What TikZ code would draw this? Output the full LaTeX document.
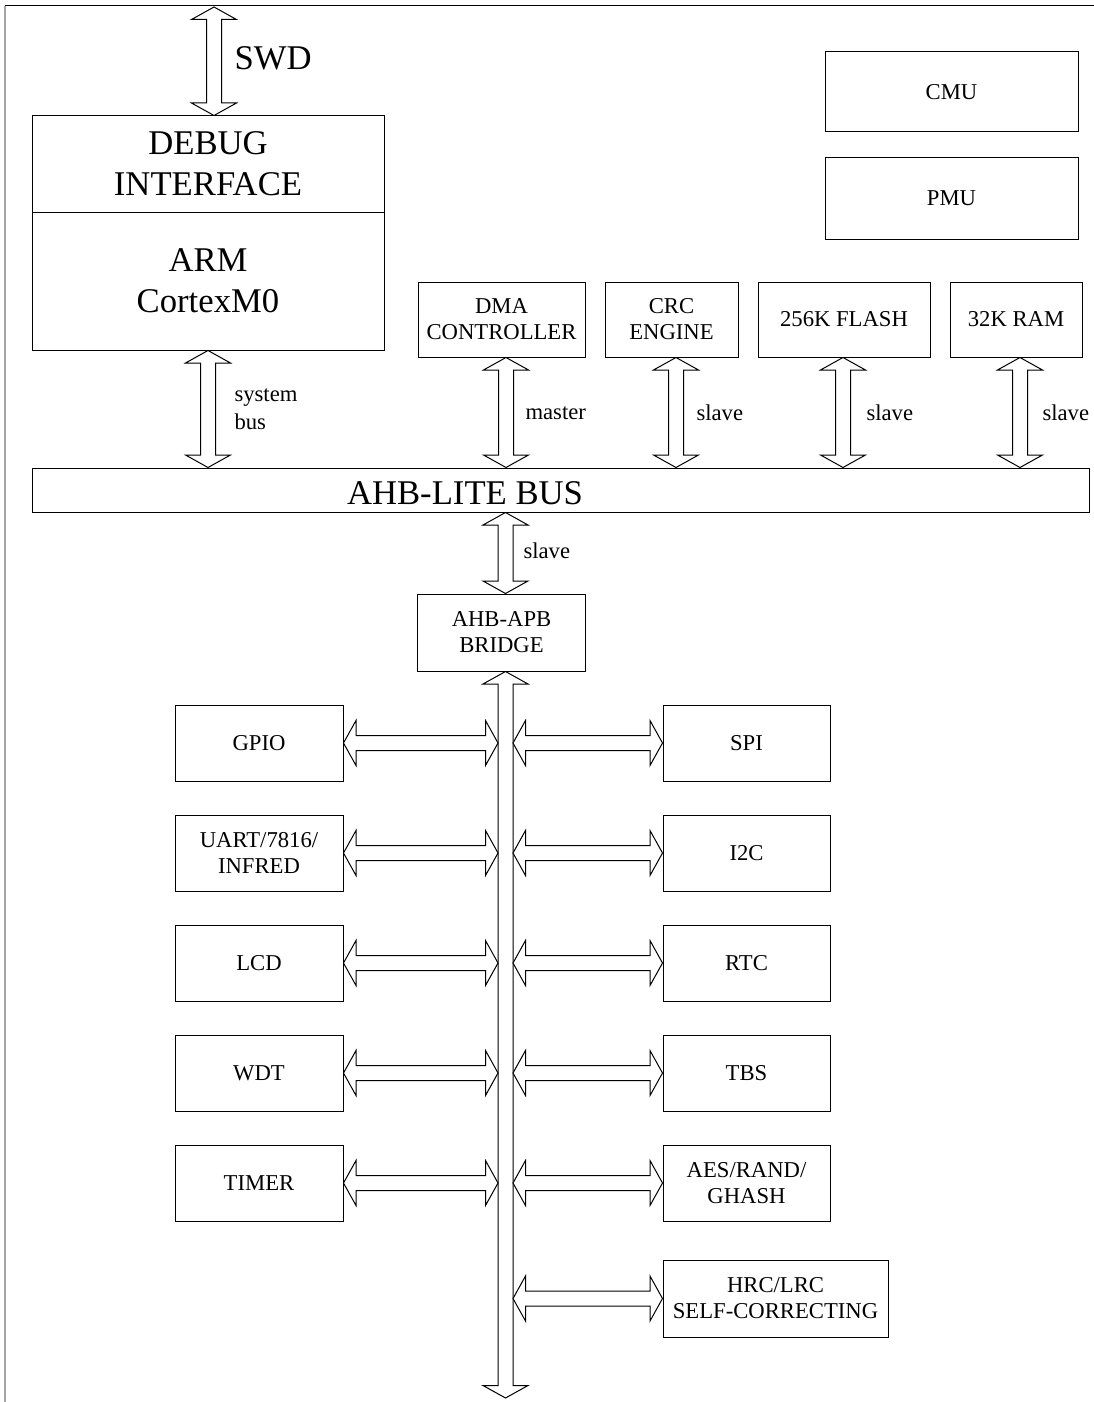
\documentclass[tikz,border=0pt]{standalone}
\usepackage{fontspec}
\setmainfont{Liberation Serif}
\usetikzlibrary{calc}

\tikzset{every picture/.style={line width=0.75pt}}
\tikzset{
  blk/.style={draw, inner sep=0.75pt, align=center, font=\fontsize{17}{19.5}\selectfont},
  bigblk/.style={draw, inner sep=0.75pt, align=center, font=\fontsize{26}{31}\selectfont},
  bigtext/.style={inner sep=0.75pt, align=center, font=\fontsize{26}{31}\selectfont},
  lbl/.style={inner sep=0.75pt, anchor=west, align=left, font=\fontsize{17}{20.6}\selectfont},
  busarrow/.style={draw, fill=white, line join=miter},
}

% vertical bus arrow, #1 upper tip, #2 lower tip
\newcommand{\vbusarrow}[2]{%
  \draw[busarrow] (#1) -- ($(#1)+(22.5,12.5)$) -- ($(#1)+(7.5,12.5)$) -- ($(#2)+(7.5,-12.5)$) -- ($(#2)+(22.5,-12.5)$) -- (#2) -- ($(#2)+(-22.5,-12.5)$) -- ($(#2)+(-7.5,-12.5)$) -- ($(#1)+(-7.5,12.5)$) -- ($(#1)+(-22.5,12.5)$) -- cycle ;}
% horizontal bus arrow, #1 left tip, #2 right tip
\newcommand{\hbusarrow}[2]{%
  \draw[busarrow] (#1) -- ($(#1)+(12.5,-22.5)$) -- ($(#1)+(12.5,-7.5)$) -- ($(#2)+(-12.5,-7.5)$) -- ($(#2)+(-12.5,-22.5)$) -- (#2) -- ($(#2)+(-12.5,22.5)$) -- ($(#2)+(-12.5,7.5)$) -- ($(#1)+(12.5,7.5)$) -- ($(#1)+(12.5,22.5)$) -- cycle ;}

\begin{document}
\begin{tikzpicture}[x=0.75pt,y=0.75pt,yscale=-1,xscale=1]
\useasboundingbox (0,0) rectangle (1094,1402);

%Frame
\draw [color=gray!70, line width=1.5] (5,6) -- (5,1402) ;
\draw (5,6) -- (1094,6) ;

%Core
\node [bigblk, minimum width=264pt, minimum height=72pt] (debug) at (208,164) {DEBUG\\INTERFACE};
\node [bigblk, minimum width=264pt, minimum height=103.5pt] (arm) at (208,281) {ARM\\CortexM0};

%Clock and power
\node [blk, minimum width=189.75pt, minimum height=60pt] (cmu) at (951.5,92) {CMU};
\node [blk, minimum width=189.75pt, minimum height=60.75pt] (pmu) at (951.5,198.5) {PMU};

%AHB masters and slaves
\node [blk, minimum width=125.25pt, minimum height=56.25pt] (dma) at (501.5,319.5) {DMA\\CONTROLLER};
\node [blk, minimum width=99.75pt, minimum height=56.25pt] (crc) at (671.5,319.5) {CRC\\ENGINE};
\node [blk, minimum width=129pt, minimum height=56.25pt] (flash) at (844,319.5) {256K FLASH};
\node [blk, minimum width=99pt, minimum height=56.25pt] (ram) at (1016,319.5) {32K RAM};

%AHB bus
\node [draw, minimum width=792.75pt, minimum height=33pt] (ahb) at (560.5,490) {};
% Text Node
\node [bigtext] (ahbtext) at (465,493) {AHB-LITE BUS};

\node [blk, minimum width=126pt, minimum height=57.75pt] (bridge) at (501.5,632.5) {AHB-APB\\BRIDGE};

%APB peripherals, left
\node [blk, minimum width=126pt, minimum height=57pt] (gpio) at (259,743) {GPIO};
\node [blk, minimum width=126pt, minimum height=57pt] (uart) at (259,853) {UART/7816/\\INFRED};
\node [blk, minimum width=126pt, minimum height=57pt] (lcd) at (259,963) {LCD};
\node [blk, minimum width=126pt, minimum height=57pt] (wdt) at (259,1073) {WDT};
\node [blk, minimum width=126pt, minimum height=57pt] (timer) at (259,1183) {TIMER};

%APB peripherals, right
\node [blk, minimum width=125.25pt, minimum height=57pt] (spi) at (746.5,743) {SPI};
\node [blk, minimum width=125.25pt, minimum height=57pt] (i2c) at (746.5,853) {I2C};
\node [blk, minimum width=125.25pt, minimum height=57pt] (rtc) at (746.5,963) {RTC};
\node [blk, minimum width=125.25pt, minimum height=57pt] (tbs) at (746.5,1073) {TBS};
\node [blk, minimum width=125.25pt, minimum height=57pt] (aes) at (746.5,1183) {AES/RAND/\\GHASH};
\node [blk, minimum width=168.75pt, minimum height=57.75pt] (hrc) at (775.5,1298.5) {HRC/LRC\\SELF-CORRECTING};

%SWD arrow
\coordinate (swdtop) at (214,7);
\coordinate (swdbot) at (debug.north -| swdtop);
\vbusarrow{swdtop}{swdbot}
% Text Node
\node [bigtext, anchor=west] (swdlbl) at (233,58) {SWD};

%System bus arrow
\coordinate (sysbot) at (arm.south |- ahb.north);
\vbusarrow{arm.south}{sysbot}
% Text Node
\node [lbl] (syslbl) at (233,409) {system\\bus};

%Master and slave arrows
\foreach \nm/\ax in {dma/506,crc/676,flash/843,ram/1020}{
  \coordinate (\nm up) at (\nm.south -| \ax,0);
  \coordinate (\nm dn) at (\nm up |- ahb.north);
  \vbusarrow{\nm up}{\nm dn}
}
% Text Node
\node [lbl] (dmalbl) at (524,413) {master};
\node [lbl] (crclbl) at (695,413) {slave};
\node [lbl] (flashlbl) at (865,413) {slave};
\node [lbl] (ramlbl) at (1041,413) {slave};

%AHB to bridge
\coordinate (brup) at (ahb.south -| 505.5,0);
\coordinate (brdn) at (brup |- bridge.north);
\vbusarrow{brup}{brdn}
% Text Node
\node [lbl] (brlbl) at (522,551) {slave};

%APB bus
\coordinate (apbup) at (bridge.south -| 505.5,0);
\coordinate (apbdn) at (505.5,1398);
\vbusarrow{apbup}{apbdn}
\coordinate (apbl) at ($(apbup)+(-7.5,0)$);
\coordinate (apbr) at ($(apbup)+(7.5,0)$);

\foreach \nm in {gpio,uart,lcd,wdt,timer}{
  \coordinate (\nm bus) at (\nm.east -| apbl);
  \hbusarrow{\nm.east}{\nm bus}
}
\foreach \nm in {spi,i2c,rtc,tbs,aes,hrc}{
  \coordinate (\nm bus) at (\nm.west -| apbr);
  \hbusarrow{\nm bus}{\nm.west}
}

\end{tikzpicture}
\end{document}
